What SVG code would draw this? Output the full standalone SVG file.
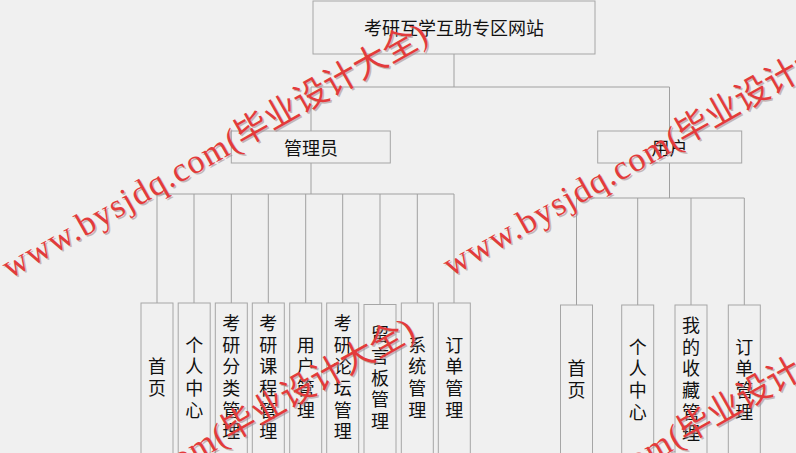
<svg xmlns="http://www.w3.org/2000/svg" width="796" height="453" viewBox="0 0 796 453">
<defs>
<text id="wmt"><tspan letter-spacing="1.3">www.bysjdq.com</tspan>(毕业设计大全)</text>
</defs>
<style>
.bg{fill:#f0f0f0}
.box{fill:#f0f0f0;stroke:#a6a6a6;stroke-width:1}
.ln{fill:none;stroke:#a0a0a0;stroke-width:1}
.t{font-family:"Noto Sans CJK SC","Noto Sans",sans-serif;font-size:18px;fill:#111;text-anchor:middle;dominant-baseline:central}
.wm{font-family:"Liberation Serif","Noto Sans CJK SC",serif;font-size:34px;fill:#e33b3b}
.wms{font-family:"Liberation Serif","Noto Sans CJK SC",serif;font-size:34px;fill:#a08888;opacity:0.55}
</style>
<rect class="bg" x="0" y="0" width="796" height="453"/>
<g id="connectors">
<path class="ln" d="M454,54V87M311,87H669.5M311,87V131M669.5,87V131"/>
<path class="ln" d="M311,163V194M157,194H454M157,194V303M194,194V303M231.3,194V303M268.3,194V303M305.7,194V303M342.7,194V303M380,194V304.5M417.3,194V303M454,194V303"/>
<path class="ln" d="M669.5,163V198M576.5,198H744.3M576.5,198V305M637.7,198V305M691,198V305M744.3,198V305"/>
</g>
<g id="root"><rect class="box" x="313" y="1" width="282" height="53"/><text class="t" x="454" y="27">考研互学互助专区网站</text></g>
<g id="admin"><rect class="box" x="231.3" y="131" width="159" height="32"/><text class="t" x="311" y="147">管理员</text></g>
<g id="user"><rect class="box" x="597.7" y="131" width="144" height="32"/><text class="t" x="669.5" y="147">用户</text></g>
<g id="a1"><rect class="box" x="141" y="303" width="32" height="170"/><text class="t"><tspan x="157" y="365.2">首</tspan><tspan x="157" y="386.9">页</tspan></text></g>
<g id="a2"><rect class="box" x="178.2" y="303" width="32" height="170"/><text class="t"><tspan x="194.2" y="343.5">个</tspan><tspan x="194.2" y="365.2">人</tspan><tspan x="194.2" y="386.9">中</tspan><tspan x="194.2" y="408.6">心</tspan></text></g>
<g id="a3"><rect class="box" x="215.3" y="303" width="32" height="170"/><text class="t"><tspan x="231.3" y="321.8">考</tspan><tspan x="231.3" y="343.5">研</tspan><tspan x="231.3" y="365.2">分</tspan><tspan x="231.3" y="386.9">类</tspan><tspan x="231.3" y="408.6">管</tspan><tspan x="231.3" y="430.3">理</tspan></text></g>
<g id="a4"><rect class="box" x="252.3" y="303" width="32" height="170"/><text class="t"><tspan x="268.3" y="321.8">考</tspan><tspan x="268.3" y="343.5">研</tspan><tspan x="268.3" y="365.2">课</tspan><tspan x="268.3" y="386.9">程</tspan><tspan x="268.3" y="408.6">管</tspan><tspan x="268.3" y="430.3">理</tspan></text></g>
<g id="a5"><rect class="box" x="289.7" y="303" width="32" height="170"/><text class="t"><tspan x="305.7" y="343.5">用</tspan><tspan x="305.7" y="365.2">户</tspan><tspan x="305.7" y="386.9">管</tspan><tspan x="305.7" y="408.6">理</tspan></text></g>
<g id="a6"><rect class="box" x="326.7" y="303" width="32" height="170"/><text class="t"><tspan x="342.7" y="321.8">考</tspan><tspan x="342.7" y="343.5">研</tspan><tspan x="342.7" y="365.2">论</tspan><tspan x="342.7" y="386.9">坛</tspan><tspan x="342.7" y="408.6">管</tspan><tspan x="342.7" y="430.3">理</tspan></text></g>
<g id="a7"><rect class="box" x="364" y="304.5" width="32" height="170"/><text class="t"><tspan x="380" y="333.3">留</tspan><tspan x="380" y="355">言</tspan><tspan x="380" y="376.7">板</tspan><tspan x="380" y="398.4">管</tspan><tspan x="380" y="420.1">理</tspan></text></g>
<g id="a8"><rect class="box" x="401.3" y="303" width="32" height="170"/><text class="t"><tspan x="417.3" y="343.5">系</tspan><tspan x="417.3" y="365.2">统</tspan><tspan x="417.3" y="386.9">管</tspan><tspan x="417.3" y="408.6">理</tspan></text></g>
<g id="a9"><rect class="box" x="438.3" y="303" width="32" height="170"/><text class="t"><tspan x="454.3" y="343.5">订</tspan><tspan x="454.3" y="365.2">单</tspan><tspan x="454.3" y="386.9">管</tspan><tspan x="454.3" y="408.6">理</tspan></text></g>
<g id="u1"><rect class="box" x="560.5" y="305" width="32" height="170"/><text class="t"><tspan x="576.5" y="367.2">首</tspan><tspan x="576.5" y="388.9">页</tspan></text></g>
<g id="u2"><rect class="box" x="621.7" y="305" width="32" height="170"/><text class="t"><tspan x="637.7" y="345.5">个</tspan><tspan x="637.7" y="367.2">人</tspan><tspan x="637.7" y="388.9">中</tspan><tspan x="637.7" y="410.6">心</tspan></text></g>
<g id="u3"><rect class="box" x="675" y="305" width="32" height="170"/><text class="t"><tspan x="691" y="323.8">我</tspan><tspan x="691" y="345.5">的</tspan><tspan x="691" y="367.2">收</tspan><tspan x="691" y="388.9">藏</tspan><tspan x="691" y="410.6">管</tspan><tspan x="691" y="432.3">理</tspan></text></g>
<g id="u4"><rect class="box" x="728.3" y="305" width="32" height="170"/><text class="t"><tspan x="744.3" y="345.5">订</tspan><tspan x="744.3" y="367.2">单</tspan><tspan x="744.3" y="388.9">管</tspan><tspan x="744.3" y="410.6">理</tspan></text></g>
<g id="watermarks">
<use href="#wmt" class="wms" transform="translate(11.5,280.5) rotate(-29.5)"/>
<use href="#wmt" class="wm" transform="translate(10,279) rotate(-29.5)"/>
<use href="#wmt" class="wms" transform="translate(452.5,278.5) rotate(-29.5)"/>
<use href="#wmt" class="wm" transform="translate(451,277) rotate(-29.5)"/>
<use href="#wmt" class="wms" transform="translate(-1.5,575.5) rotate(-29.5)"/>
<use href="#wmt" class="wm" transform="translate(-3,574) rotate(-29.5)"/>
<use href="#wmt" class="wms" transform="translate(454.5,576.5) rotate(-29.5)"/>
<use href="#wmt" class="wm" transform="translate(453,575) rotate(-29.5)"/>
</g>
</svg>
